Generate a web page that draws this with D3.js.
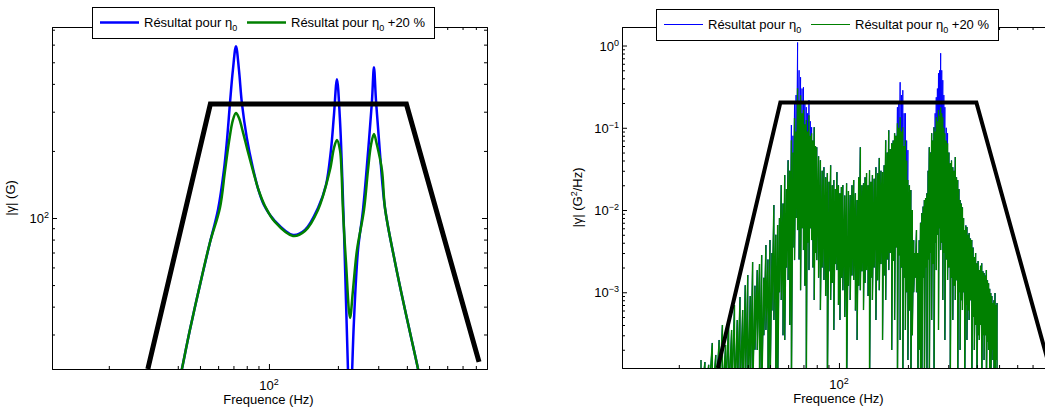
<!DOCTYPE html>
<html><head><meta charset="utf-8">
<script src="https://cdn.jsdelivr.net/npm/d3@7"></script>
<style>body{margin:0;background:#fff}svg{display:block}text{font-family:"Liberation Sans",Arial,sans-serif;fill:#000}</style>
</head><body><svg id="c" width="1045" height="408"></svg>
<script>
// ---------- DATA ----------
// Left panel : |gamma| (G) vs frequency (Hz)
const leftFreqBlue = [39.3,41.7,45.2,50.0,55.2,59.9,63.6,65.6,67.6,69.6,71.8,74.0,76.2,80.1,85.1,89.5,95.1,106.2,127.3,143.6,163.7,177.4,186.5,192.2,198.1,204.2,208.4,212.6,216.9,221.3,224.7,228.1,235.1,244.8,257.3,273.4,281.8,287.3,293.2,302.2,321.0,354.9,392.6,447.5,465.8];
const leftAmpBlue  = [15.6,21.0,31.5,50.1,77.2,108.6,164.1,223.8,327.9,461,590.6,461,327.9,228.4,167.6,136.3,114.4,96.9,83.9,88.4,110.9,140.6,201.8,289.7,420.1,275.1,164.1,88.4,42.9,20.8,12.4,15.3,34.9,71.9,108.6,223.8,338.2,475.3,338.2,223.8,110.9,63.5,38.7,21.0,16.9];
const leftFreqGreen = [39.3,41.7,45.2,50.0,55.2,61.1,64.2,66.9,69.6,71.8,74.0,77.0,81.0,86.0,90.4,96.1,106.2,127.3,143.6,163.7,184.6,192.2,198.1,204.2,207.3,210.4,216.9,225.9,232.7,242.3,259.9,270.6,278.9,287.3,296.2,311.4,321.0,354.9,392.6,447.5,465.8];
const leftAmpGreen  = [15.6,21.0,31.5,50.1,77.2,110.9,160.8,219.2,275.1,295.8,280.9,243.0,197.7,157.5,132.2,113.2,96.0,83.1,87.4,108.6,164.1,206.0,223.8,201.8,164.1,108.6,63.5,35.6,47.5,71.9,108.6,164.1,212.6,238.0,212.6,164.1,110.9,63.5,38.7,21.0,16.9];
// test profile (black)
const profileFreq  = [29.6,55.5,398,826];
const profileLeft  = [21.0,324.5,324.5,22.6];
const profileRight = [1.2e-4,0.203,0.203,1.3e-4];

// Right panel : PSD (G^2/Hz), noisy spectra read as peak / trough per frequency bin
const psdFreq = [25,26,27,28,29,30,31,32,33,34,
 35,36,37,38,39,40,41,42,43,44,
 45,46,47,48,49,50,51,52,53,54,
 55,56,57,58,59,60,61,62,63,64,
 65,66,67,68,69,70,71,72,73,74,
 75,76,77,78,79,80,81.5,83,84.5,86,
 87.5,89,90.5,92,93.5,95,96.5,98,99.5,101,
 102.5,104,106,108,110,112,114,116,118,120,
 122,124,126,128,130,132,134,136,138,140,
 142.5,145,147.5,150,152.5,155,157.5,160,162.5,165,
 167.5,170,172.5,175,177.5,180,182.5,185,187.5,190,
 192.5,195,197.5,200,203,206,209,212,215,218,
 221,224,227,230,233,236,239,242,245,248,
 251,254,257,260,263,266,269,272,275,278,
 281,284,287,290,294,298,302,306,310,314,
 318,322,326,330,334,338,342,346,350,354,
 358,362,366,370,375,380,385,390,395,400,
 405,410,415,420,425,430,435,440,445,450,
 455,460,465,470,475,480,485,490];
const psdGreenPeaks = [1.5e-4,1.42e-4,1.31e-4,2.42e-4,1.73e-4,2.63e-4,4.0e-4,2.29e-4,4.6e-4,3.48e-4,
 7.0e-4,4.6e-4,8.75e-4,6.08e-4,1.22e-3,1.62e-3,9e-4,2.33e-3,1.2e-3,1.86e-3,
 2.2e-3,2.83e-3,1.5e-3,3.75e-3,2.5e-3,4.31e-3,3.0e-3,1.15e-2,5.0e-3,6.56e-3,
 8.0e-3,2.01e-2,1.2e-2,2.66e-2,1.8e-2,4.04e-2,3.0e-2,7.07e-2,5.0e-2,0.131,
 0.09,0.302,0.2,0.249,0.15,0.164,0.11,0.124,0.09,0.142,
 0.08,0.086,0.07,0.1017,0.06,0.0581,0.045,0.0404,0.03,0.0332,
 0.025,0.0281,0.022,0.0351,0.02,0.0231,0.018,0.0289,0.02,0.016,
 0.019,0.0201,0.015,0.0212,0.017,0.0152,0.02,0.0231,0.016,0.0132,
 0.025,0.0581,0.02,0.0212,0.025,0.0281,0.02,0.0305,0.022,0.0266,
 0.024,0.0332,0.028,0.043,0.03,0.0289,0.035,0.0707,0.05,0.0935,
 0.055,0.065,0.07,0.086,0.08,0.1137,0.1,0.1345,0.09,0.1017,
 0.06,0.0707,0.04,0.0231,0.02,0.0175,0.01,0.0043,0.003,0.0057,
 0.003,0.0043,0.007,0.00917,0.011,0.0132,0.014,0.016,0.03,0.0581,
 0.05,0.086,0.07,0.1017,0.09,0.1345,0.12,0.164,0.14,0.178,
 0.15,0.1345,0.1,0.086,0.07,0.065,0.05,0.0371,0.04,0.0332,
 0.03,0.044,0.025,0.0231,0.018,0.0132,0.012,0.0108,0.008,0.0057,
 0.0065,0.0062,0.005,0.00524,0.0045,0.00431,0.0035,0.00268,0.003,0.00226,
 0.0024,0.00186,0.0021,0.00226,0.0018,0.00171,0.0016,0.00186,0.0014,0.00129,
 0.0011,0.000978,0.0009,0.00074,0.0008,0.000978,0.0007,0.00074];
const psdBluePeaks = [1.5e-4,1.42e-4,1.31e-4,2.42e-4,1.73e-4,2.63e-4,4.0e-4,2.29e-4,4.6e-4,3.48e-4,
 7.0e-4,4.6e-4,8.75e-4,6.08e-4,1.22e-3,1.62e-3,9e-4,2.33e-3,1.2e-3,1.86e-3,
 2.2e-3,2.83e-3,1.5e-3,3.75e-3,2.5e-3,4.31e-3,3.0e-3,1.15e-2,5.0e-3,6.56e-3,
 8.0e-3,2.01e-2,1.2e-2,2.66e-2,1.8e-2,4.04e-2,3.0e-2,0.108,0.08,0.199,
 0.25,1.09,0.5,0.412,0.3,0.311,0.2,0.178,0.15,0.216,
 0.12,0.1017,0.07,0.1017,0.06,0.0581,0.045,0.0404,0.03,0.0332,
 0.025,0.0281,0.022,0.0351,0.02,0.0231,0.018,0.0289,0.02,0.016,
 0.019,0.0201,0.015,0.0212,0.017,0.0152,0.02,0.0231,0.016,0.0132,
 0.025,0.0581,0.02,0.0212,0.025,0.0281,0.02,0.0305,0.022,0.0266,
 0.024,0.0332,0.028,0.043,0.03,0.0289,0.035,0.0707,0.05,0.0935,
 0.055,0.065,0.07,0.086,0.08,0.178,0.2,0.358,0.25,0.286,
 0.15,0.15,0.07,0.0535,0.02,0.0175,0.01,0.0043,0.003,0.0057,
 0.003,0.0043,0.007,0.00917,0.011,0.0132,0.014,0.016,0.03,0.0581,
 0.05,0.086,0.07,0.1017,0.15,0.235,0.3,0.461,0.5,0.806,
 0.5,0.379,0.25,0.178,0.1,0.086,0.05,0.0371,0.04,0.0332,
 0.03,0.044,0.025,0.0231,0.018,0.0132,0.012,0.0108,0.008,0.0057,
 0.0065,0.0062,0.005,0.00524,0.0045,0.00431,0.0035,0.00268,0.003,0.00226,
 0.0024,0.00186,0.0021,0.00226,0.0018,0.00171,0.0016,0.00186,0.0014,0.00129,
 0.0011,0.000978,0.0009,0.00074,0.0008,0.000978,0.0007,0.00074];
const psdTroughs = [5e-5,5e-5,5e-5,5e-5,5e-5,5e-5,5e-5,5e-5,5e-5,5e-5,
 5e-5,5e-5,5e-5,5e-5,5e-5,5e-5,5e-5,5e-5,2e-4,1.99e-4,
 5e-5,5e-5,3e-4,3.48e-4,5e-5,5e-5,6e-4,4.6e-4,5e-5,5e-5,
 1.0e-3,8.05e-4,3e-4,2.63e-4,2.0e-3,1.41e-3,4e-4,5e-5,3.5e-3,2.46e-3,
 8e-3,5.7e-3,2.5e-3,1.06e-3,6e-3,3.26e-3,1.2e-3,5e-5,4e-3,1.86e-3,
 6e-3,4.31e-3,2e-3,8.05e-4,3e-3,2.46e-3,1.5e-3,6.08e-4,2.0e-3,1.41e-3,
 9e-4,5e-5,1.8e-3,8.05e-4,1.3e-3,3.48e-4,2.2e-3,1.86e-3,7e-4,4.6e-4,
 1.5e-3,1.06e-3,5e-4,5e-5,1.2e-3,8.05e-4,1.6e-3,1.41e-3,6e-4,2.63e-4,
 1.2e-3,1.06e-3,1.8e-3,6.08e-4,1.3e-3,1.86e-3,9e-4,5e-5,1.5e-3,8.05e-4,
 2.0e-3,4.6e-4,1.4e-3,1.06e-3,2.2e-3,2.63e-4,1.6e-3,8.05e-4,2.5e-3,1.86e-3,
 3e-3,1.99e-4,2.4e-3,4.6e-4,3.5e-3,5e-5,2.8e-3,2.63e-4,2.0e-3,5e-5,
 1.5e-3,3.48e-4,1.0e-3,1.5e-4,6e-4,5e-5,3e-4,1e-3,1.5e-3,1e-3,
 5e-5,2e-4,5e-5,5e-5,1.5e-3,5e-5,2e-3,5e-5,2.5e-3,5e-5,
 3e-3,4.6e-4,2.2e-3,5e-5,4e-3,1.86e-3,5e-3,3.48e-4,6e-3,3.26e-3,
 4e-3,8.05e-4,3e-3,2.63e-4,2.5e-3,1.41e-3,2e-3,5e-5,1.5e-3,4.6e-4,
 1.2e-3,8.05e-4,1.4e-3,5e-5,1.0e-3,1.99e-4,8e-4,6.08e-4,1.0e-3,5e-5,
 7e-4,2.63e-4,6e-4,4.6e-4,8e-4,5e-5,5e-4,1.99e-4,4e-4,5e-5,
 3e-4,2.63e-4,4e-4,5e-5,3e-4,1.5e-4,3e-4,5e-5,2.5e-4,1.99e-4,
 5e-5,5e-5,2e-4,1.5e-4,5e-5,5e-5,1.5e-4,5e-5];

// axis ticks / labels
const xDomain = [11.3, 895];
const xMajor = [100], xMajorExp = ["2"];
const xMinor = [20,30,40,50,60,70,80,90,200,300,400,500,600,700,800];
const leftYDomain = [21.0, 720];
const leftYMajor = [100], leftYMajorExp = ["2"];
const leftYMinor = [30,40,50,60,70,80,90,200,300,400,500,600,700];
const rightYDomain = [1.2e-4, 1.68];
const rightYMajor = [1e-3,1e-2,1e-1,1], rightYMajorExp = ["\u22123","\u22122","\u22121","0"];
const rightYMinor = [2e-4,3e-4,4e-4,5e-4,6e-4,7e-4,8e-4,9e-4,2e-3,3e-3,4e-3,5e-3,6e-3,7e-3,8e-3,9e-3,2e-2,3e-2,4e-2,5e-2,6e-2,7e-2,8e-2,9e-2,0.2,0.3,0.4,0.5,0.6,0.7,0.8,0.9];
const legendLabels = ["Résultat pour η", "Résultat pour η"];
const legendSuffix = ["", " +20 %"];
const xLabel = "Frequence (Hz)";

// ---------- DRAW ----------
const svg = d3.select("#c");
svg.append("rect").attr("width",1045).attr("height",408).attr("fill","#fff");
const defs = svg.append("defs");

function makePanel(cfg){
  const x = d3.scaleLog().domain(xDomain).range([cfg.x0, cfg.x1]);
  const y = d3.scaleLog().domain(cfg.yDomain).range([cfg.y1, cfg.y0]);
  defs.append("clipPath").attr("id", cfg.id).append("rect")
    .attr("x", cfg.x0).attr("y", cfg.y0).attr("width", cfg.x1-cfg.x0).attr("height", cfg.y1-cfg.y0);
  const g = svg.append("g");
  const plot = g.append("g").attr("clip-path", `url(#${cfg.id})`);
  return {x, y, g, plot};
}

function supText(sel, base, exp){
  sel.append("tspan").text(base);
  sel.append("tspan").attr("dy", -5).attr("font-size", 9).text(exp);
}

function drawAxes(p, cfg){
  const {x, y, g} = p;
  const specs = [
    [()=>d3.axisBottom(x), `translate(0,${cfg.y1})`, xMinor, xMajor],
    [()=>d3.axisTop(x), `translate(0,${cfg.y0})`, xMinor, xMajor],
    [()=>d3.axisLeft(y), `translate(${cfg.x0},0)`, cfg.yMinor, cfg.yMajor],
    [()=>d3.axisRight(y), `translate(${cfg.x1},0)`, cfg.yMinor, cfg.yMajor]
  ];
  specs.forEach(([mk, tr, minor, major])=>{
    const a1 = g.append("g").attr("transform", tr)
      .call(mk().tickValues(minor).tickSize(-3).tickSizeOuter(0).tickFormat(""));
    const a2 = g.append("g").attr("transform", tr)
      .call(mk().tickValues(major).tickSize(-5).tickSizeOuter(0).tickFormat(""));
    [a1,a2].forEach(a=>{a.selectAll("path,line").attr("stroke","#000").attr("stroke-width",1);});
  });
  xMajor.forEach((v,i)=>{
    const t = g.append("text").attr("x", x(v)).attr("y", cfg.y1+21).attr("text-anchor","middle").attr("font-size",13);
    supText(t, "10", xMajorExp[i]);
  });
  cfg.yMajor.forEach((v,i)=>{
    const t = g.append("text").attr("x", cfg.x0-3).attr("y", y(v)+5).attr("text-anchor","end").attr("font-size",13);
    supText(t, "10", cfg.yMajorExp[i]);
  });
  g.append("text").attr("x", (cfg.x0+cfg.x1)/2 - 1).attr("y", cfg.y1+35).attr("text-anchor","middle")
    .attr("font-size",13).text(xLabel);
  const yl = g.append("text").attr("transform", `translate(${cfg.ylx},${(cfg.y0+cfg.y1)/2}) rotate(-90)`)
    .attr("text-anchor","middle").attr("font-size",13);
  yl.append("tspan").text(cfg.ylBase);
  if (cfg.ylSup){
    yl.append("tspan").attr("dy",-5).attr("font-size",9).text(cfg.ylSup);
    yl.append("tspan").attr("dy",5).text(cfg.ylRest);
  }
}

function drawLegend(cfg){
  const g = svg.append("g");
  g.append("rect").attr("x", cfg.lx+0.5).attr("y", cfg.ly+0.5).attr("width", 342).attr("height", 31)
    .attr("fill","#fff").attr("stroke","#000").attr("stroke-width",1);
  const cols = ["#0000ff","#008000"];
  const offs = [0, 147];
  cols.forEach((c,i)=>{
    const bx = cfg.lx + 8 + offs[i];
    const ly = cfg.ly + 15.5;
    g.append("line").attr("x1", bx).attr("x2", bx+39).attr("y1", ly).attr("y2", ly)
      .attr("stroke", c).attr("stroke-width", cfg.lw);
    const t = g.append("text").attr("x", bx+44).attr("y", ly+4.5).attr("font-size",13);
    t.append("tspan").text(legendLabels[i]);
    t.append("tspan").attr("dy",4).attr("font-size",9).text("0");
    if (legendSuffix[i]) t.append("tspan").attr("dy",-4).attr("font-size",13).text(legendSuffix[i]);
  });
}

// ---- Left panel ----
const Lcfg = {id:"clipL", x0:52, x1:487, y0:27, y1:369, yDomain:leftYDomain,
  yMajor:leftYMajor, yMajorExp:leftYMajorExp, yMinor:leftYMinor, ylx:15, ylBase:"|γ| (G)"};
const L = makePanel(Lcfg);
const lineL = d3.line().x(d=>L.x(d[0])).y(d=>L.y(d[1])).curve(d3.curveCatmullRom.alpha(0.5));
L.plot.append("path").datum(d3.zip(leftFreqBlue, leftAmpBlue)).attr("d", lineL)
  .attr("fill","none").attr("stroke","#0000ff").attr("stroke-width",2.5);
L.plot.append("path").datum(d3.zip(leftFreqGreen, leftAmpGreen)).attr("d", lineL)
  .attr("fill","none").attr("stroke","#008000").attr("stroke-width",2.5);
L.plot.append("path").datum(d3.zip(profileFreq, profileLeft))
  .attr("d", d3.line().x(d=>L.x(d[0])).y(d=>L.y(d[1])))
  .attr("fill","none").attr("stroke","#000").attr("stroke-width",5).attr("stroke-linejoin","miter");
drawAxes(L, Lcfg);
drawLegend({lx:92, ly:7, lw:2.5});

// ---- Right panel ----
const Rcfg = {id:"clipR", x0:622, x1:1057, y0:27, y1:368, yDomain:rightYDomain,
  yMajor:rightYMajor, yMajorExp:rightYMajorExp, yMinor:rightYMinor, ylx:582,
  ylBase:"|γ| (G", ylSup:"2", ylRest:"/Hz)"};
const R = makePanel(Rcfg);
const lineR = d3.line().x(d=>R.x(d[0])).y(d=>R.y(d[1]));
const spikes = (peaks)=> psdFreq.flatMap((f,i)=>[[f, peaks[i]],[f, psdTroughs[i]]]);
R.plot.append("path").datum(spikes(psdBluePeaks)).attr("d", lineR)
  .attr("fill","none").attr("stroke","#0000ff").attr("stroke-width",1);
R.plot.append("path").datum(spikes(psdGreenPeaks)).attr("d", lineR)
  .attr("fill","none").attr("stroke","#008000").attr("stroke-width",1.4);
R.plot.append("path").datum(d3.zip(profileFreq, profileRight)).attr("d", lineR)
  .attr("fill","none").attr("stroke","#000").attr("stroke-width",4).attr("stroke-linejoin","miter");
drawAxes(R, Rcfg);
drawLegend({lx:656, ly:9, lw:1});
</script>
</body></html>
